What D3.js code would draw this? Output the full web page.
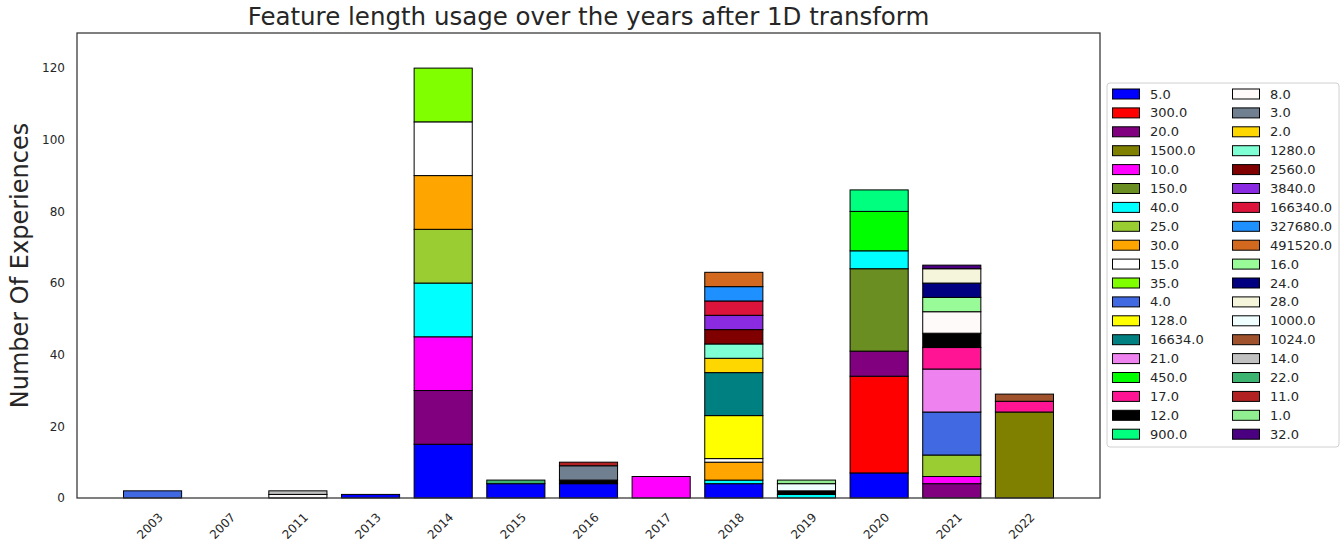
<!DOCTYPE html>
<html>
<head>
<meta charset="utf-8">
<script src="https://cdn.jsdelivr.net/npm/d3@7"></script>
<style>
  body { margin: 0; background: #fff; }
  svg { display: block; font-family: "DejaVu Sans", sans-serif; }
</style>
</head>
<body>
<svg id="chart" width="1343" height="546"></svg>
<script>
// ---- data ----
const years = ["2003","2007","2011","2013","2014","2015","2016","2017","2018","2019","2020","2021","2022"];
const seriesKeys = ["5.0","300.0","20.0","1500.0","10.0","150.0","40.0","25.0","30.0","15.0","35.0","4.0","128.0","16634.0","21.0","450.0","17.0","12.0","900.0","8.0","3.0","2.0","1280.0","2560.0","3840.0","166340.0","327680.0","491520.0","16.0","24.0","28.0","1000.0","1024.0","14.0","22.0","11.0","1.0","32.0"];
const seriesColors = ["#0000ff","#ff0000","#800080","#808000","#ff00ff","#6b8e23","#00ffff","#9acd32","#ffa500","#ffffff","#7fff00","#4169e1","#ffff00","#008080","#ee82ee","#00ff00","#ff1493","#000000","#00ff7f","#fffafa","#708090","#ffd700","#7fffd4","#800000","#8a2be2","#dc143c","#1e90ff","#d2691e","#98fb98","#000080","#f5f5dc","#f0ffff","#a0522d","#c0c0c0","#3cb371","#b22222","#90ee90","#4b0082"];
// counts per year for each feature length (only non-zero entries)
const v2003 = {"4.0": 2};
const v2007 = {};
const v2011 = {"8.0": 1, "14.0": 1};
const v2013 = {"5.0": 1};
const v2014 = {"5.0": 15, "20.0": 15, "10.0": 15, "40.0": 15, "25.0": 15, "30.0": 15, "15.0": 15, "35.0": 15};
const v2015 = {"5.0": 4, "22.0": 1};
const v2016 = {"5.0": 4, "12.0": 1, "3.0": 4, "11.0": 1};
const v2017 = {"10.0": 6};
const v2018 = {"5.0": 4, "40.0": 1, "30.0": 5, "15.0": 1, "128.0": 12, "16634.0": 12, "2.0": 4, "1280.0": 4, "2560.0": 4, "3840.0": 4, "166340.0": 4, "327680.0": 4, "491520.0": 4};
const v2019 = {"40.0": 1, "12.0": 1, "1000.0": 2, "1.0": 1};
const v2020 = {"5.0": 7, "300.0": 27, "20.0": 7, "150.0": 23, "40.0": 5, "450.0": 11, "900.0": 6};
const v2021 = {"20.0": 4, "10.0": 2, "25.0": 6, "4.0": 12, "21.0": 12, "17.0": 6, "12.0": 4, "8.0": 6, "16.0": 4, "24.0": 4, "28.0": 4, "32.0": 1};
const v2022 = {"1500.0": 24, "17.0": 3, "1024.0": 2};
const yTicks = [0, 20, 40, 60, 80, 100, 120];

const yearValues = [v2003, v2007, v2011, v2013, v2014, v2015, v2016, v2017, v2018, v2019, v2020, v2021, v2022];
const table = years.map((y, i) => {
  const row = {year: y};
  seriesKeys.forEach(k => row[k] = yearValues[i][k] || 0);
  return row;
});

// ---- layout ----
const svg = d3.select("#chart");
const L = 77, R = 1100, T = 33, B = 498;
const textColor = "#262626";

const x = d3.scaleLinear().domain([-1.04, 13.04]).range([L, R]);
const y = d3.scaleLinear().domain([0, 129.8]).range([B, T]);
const bw = x(0.8) - x(0);
const color = d3.scaleOrdinal().domain(seriesKeys).range(seriesColors);

const stack = d3.stack().keys(seriesKeys);
const layers = stack(table);

const g = svg.append("g");
layers.forEach(layer => {
  g.selectAll(null)
    .data(layer.filter(d => d[1] - d[0] > 0))
    .enter().append("rect")
    .attr("x", d => x(years.indexOf(d.data.year)) - bw / 2)
    .attr("y", d => y(d[1]))
    .attr("width", bw)
    .attr("height", d => y(d[0]) - y(d[1]))
    .attr("fill", color(layer.key))
    .attr("stroke", "#000")
    .attr("stroke-width", 1);
});

// axes frame
svg.append("rect")
  .attr("x", L).attr("y", T).attr("width", R - L).attr("height", B - T)
  .attr("fill", "none").attr("stroke", "#333").attr("stroke-width", 1.25);

// y axis
const yAxis = d3.axisLeft(y).tickValues(yTicks).tickSize(0).tickPadding(12);
const ya = svg.append("g").attr("transform", `translate(${L},0)`).call(yAxis);
ya.select(".domain").remove();
ya.selectAll("text").attr("fill", textColor).style("font-size", "12px").style("font-family", "DejaVu Sans");

// x axis
const xa = svg.append("g").attr("transform", `translate(0,${B})`);
xa.selectAll("text").data(years).enter().append("text")
  .attr("transform", (d, i) => `translate(${x(i) + 5},${14}) rotate(-45)`)
  .attr("text-anchor", "end")
  .attr("dy", "0.71em")
  .attr("fill", textColor)
  .style("font-size", "12px")
  .text(d => d);

// title
svg.append("text")
  .attr("x", (L + R) / 2).attr("y", 25)
  .attr("text-anchor", "middle")
  .attr("fill", textColor)
  .style("font-size", "24.5px")
  .text("Feature length usage over the years after 1D transform");

// y label
svg.append("text")
  .attr("transform", `translate(28,${(T + B) / 2}) rotate(-90)`)
  .attr("text-anchor", "middle")
  .attr("fill", textColor)
  .style("font-size", "24px")
  .text("Number Of Experiences");

// legend
const lg = svg.append("g");
lg.append("rect")
  .attr("x", 1107).attr("y", 83).attr("width", 232).attr("height", 364)
  .attr("rx", 3).attr("fill", "#fff").attr("stroke", "#d0d0d0").attr("stroke-width", 1);
const rows = 19;
seriesKeys.forEach((k, i) => {
  const col = Math.floor(i / rows), row = i % rows;
  const cx = col === 0 ? 1112.5 : 1232.5;
  const cy = 94 + row * 18.9;
  lg.append("rect")
    .attr("x", cx).attr("y", cy - 5).attr("width", 27).attr("height", 10)
    .attr("fill", color(k)).attr("stroke", "#000").attr("stroke-width", 1);
  lg.append("text")
    .attr("x", cx + 37.5).attr("y", cy).attr("dy", "0.35em")
    .attr("fill", textColor)
    .style("font-size", "13px")
    .text(k);
});
</script>
</body>
</html>
